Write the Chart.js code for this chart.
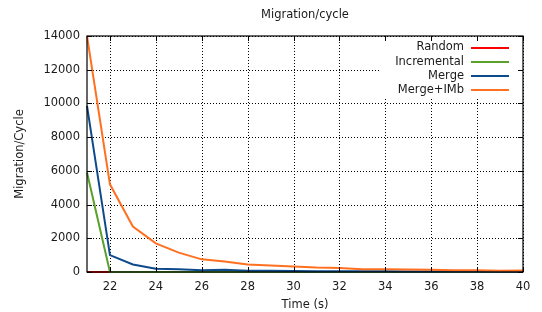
<!DOCTYPE html>
<html>
<head>
<meta charset="utf-8">
<script src="https://cdn.jsdelivr.net/npm/chart.js@4"></script>
<style>
  html, body { margin: 0; padding: 0; background: #fff; }
  #wrap { width: 542px; height: 312px; position: relative; }
</style>
</head>
<body>
<div id="wrap"><canvas id="myChart" width="542" height="312"></canvas></div>
<script>
// data
const times = [21,22,23,24,25,26,27,28,29,30,31,32,33,34,35,36,37,38,39,40];
const random      = [0,0,0,0,0,0,0,0,0,0,0,0,0,0,0,0,0,0,0,0];
const incremental = [5900,0,0,0,0,0,0,0,0,0,0,0,0,0,0,0,0,0,0,0];
const merge       = [9850,1000,450,200,170,100,130,80,70,60,50,50,40,40,30,30,30,30,20,20];
const mergeImb    = [14000,5200,2700,1700,1150,750,620,450,380,320,260,240,170,160,150,130,110,100,80,90];
const seriesNames = ['Random','Incremental','Merge','Merge+IMb'];
const seriesColors = ['#ff0000','#5aa02a','#0c4a8c','#ff7020'];
const xTicks = [22,24,26,28,30,32,34,36,38,40];
const yTicks = [0,2000,4000,6000,8000,10000,12000,14000];

const font = "'DejaVu Sans', sans-serif";
const fsize = 11.5;

function pts(vals){
    return times.map(function(t,i){ return {x:t, y:vals[i]}; });
}

// gnuplot style: dotted grid, inner ticks, legend box, title
const gnuStuff = {
    id:'gnuStuff',
    beforeDatasetsDraw(chart){
        const ctx = chart.ctx;
        const a = chart.chartArea;
        const xs = chart.scales.x, ys = chart.scales.y;
        ctx.save();
        ctx.strokeStyle = '#000';
        ctx.lineWidth = 1;
        ctx.setLineDash([1,2]);
        ctx.beginPath();
        xTicks.forEach(function(v){
            const px = Math.round(xs.getPixelForValue(v)) + 0.5;
            ctx.moveTo(px, a.top); ctx.lineTo(px, a.bottom);
        });
        yTicks.forEach(function(v){
            const py = Math.round(ys.getPixelForValue(v)) + 0.5;
            ctx.moveTo(a.left, py); ctx.lineTo(a.right, py);
        });
        ctx.stroke();
        ctx.restore();
    },
    afterDatasetsDraw(chart){
        const ctx = chart.ctx;
        const a = chart.chartArea;
        const xs = chart.scales.x, ys = chart.scales.y;
        ctx.save();
        // legend
        ctx.fillStyle = '#fff';
        ctx.fillRect(381, 39, a.right - 384, 58);
        // inner tick marks
        ctx.strokeStyle = '#000';
        ctx.lineWidth = 1;
        ctx.beginPath();
        xTicks.forEach(function(v){
            const px = Math.round(xs.getPixelForValue(v)) + 0.5;
            ctx.moveTo(px, a.bottom); ctx.lineTo(px, a.bottom - 5);
            ctx.moveTo(px, a.top); ctx.lineTo(px, a.top + 5);
        });
        yTicks.forEach(function(v){
            const py = Math.round(ys.getPixelForValue(v)) + 0.5;
            ctx.moveTo(a.left, py); ctx.lineTo(a.left + 5, py);
            ctx.moveTo(a.right, py); ctx.lineTo(a.right - 5, py);
        });
        ctx.stroke();
        ctx.font = fsize + 'px ' + font;
        ctx.textAlign = 'right';
        ctx.textBaseline = 'middle';
        seriesNames.forEach(function(name,i){
            const y = 47.5 + i*14.3;
            ctx.fillStyle = '#1a1a1a';
            ctx.fillText(name, 464, y);
            ctx.strokeStyle = seriesColors[i];
            ctx.lineWidth = 2;
            ctx.beginPath();
            ctx.moveTo(471, Math.round(y)); ctx.lineTo(509, Math.round(y));
            ctx.stroke();
        });
        // title
        ctx.fillStyle = '#1a1a1a';
        ctx.textAlign = 'center';
        ctx.fillText('Migration/cycle', 305, 15);
        // border
        ctx.strokeStyle = '#000';
        ctx.lineWidth = 1.2;
        ctx.strokeRect(a.left, a.top, a.right - a.left, a.bottom - a.top);
        ctx.restore();
    }
};

// reversed so that Merge+IMb ends up drawn on top
const sets = [random, incremental, merge, mergeImb].map(function(vals,i){
    return {
        label: seriesNames[i],
        data: pts(vals),
        borderColor: seriesColors[i],
        backgroundColor: seriesColors[i],
        borderWidth: 2,
        pointRadius: 0,
        tension: 0,
        clip: 2
    };
}).reverse();

const chart = new Chart(document.getElementById('myChart').getContext('2d'), {
    type:'line',
    data:{ datasets: sets },
    options:{
        responsive:false,
        animation:false,
        layout:{ padding:{ top:36, right:19, bottom:0, left:0 } },
        plugins:{ legend:{display:false}, title:{display:false}, tooltip:{enabled:false} },
        scales:{
            x:{
                type:'linear', min:21, max:40,
                afterBuildTicks(scale){ scale.ticks = xTicks.map(function(v){ return {value:v}; }); },
                afterFit(scale){ scale.height = 40; },
                grid:{ display:false, drawTicks:false },
                border:{ display:false },
                ticks:{ color:'#1a1a1a', font:{family:font, size:fsize}, padding:8, maxRotation:0 },
                title:{ display:true, text:'Time (s)', color:'#1a1a1a', font:{family:font, size:fsize}, padding:{top:0,bottom:0} }
            },
            y:{
                min:0, max:14000,
                afterBuildTicks(scale){ scale.ticks = yTicks.map(function(v){ return {value:v}; }); },
                afterFit(scale){ scale.width = 87; },
                grid:{ display:false, drawTicks:false },
                border:{ display:false },
                ticks:{ color:'#1a1a1a', font:{family:font, size:fsize}, padding:7,
                        callback:function(v){ return String(v); } },
                title:{ display:true, text:'Migration/Cycle', color:'#1a1a1a', font:{family:font, size:fsize}, padding:{top:13,bottom:0} }
            }
        }
    },
    plugins:[gnuStuff]
});
</script>
</body>
</html>
